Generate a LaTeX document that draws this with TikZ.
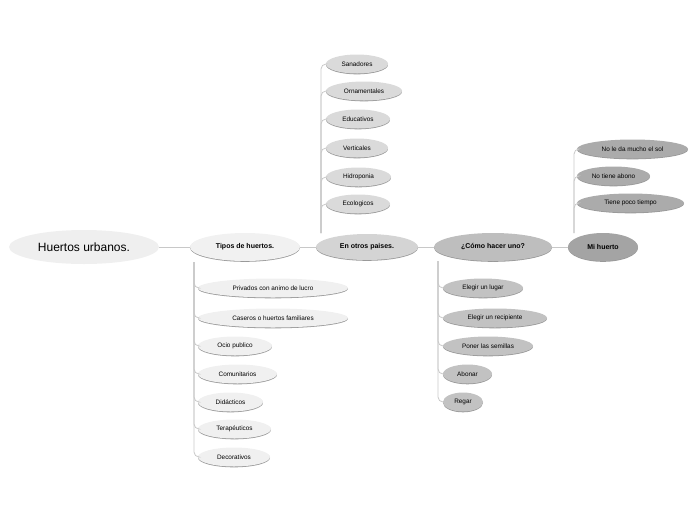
\documentclass[tikz,border=0pt]{standalone}
\usepackage{fontspec}
\setmainfont{Liberation Sans}
\usetikzlibrary{shapes.geometric,shadows}
\definecolor{cA}{HTML}{EFEFEF}
\definecolor{cB}{HTML}{F1F1F1}
\definecolor{cC}{HTML}{D4D4D4}
\definecolor{cD}{HTML}{BEBEBE}
\definecolor{cE}{HTML}{A4A4A4}
\definecolor{kB}{HTML}{F0F0F0}
\definecolor{kC}{HTML}{DADADA}
\definecolor{kD}{HTML}{C2C2C2}
\definecolor{kE}{HTML}{ABABAB}
\definecolor{lin}{HTML}{C8C8C8}
\tikzset{
  bub/.style={ellipse, inner sep=0pt, text=black, general shadow={shadow yshift=-0.8pt, fill=black!40}},
  mainbub/.style={ellipse, inner sep=0pt, fill=cA, minimum width=150pt, minimum height=34pt, font=\fontsize{12}{14}\selectfont},
  lvl/.style={bub, minimum height=28pt, font=\fontsize{7}{9}\selectfont\bfseries},
  kid/.style={bub, minimum height=19pt, font=\fontsize{6.4}{8}\selectfont},
  conn/.style={draw=lin, line width=0.8pt},
  branch/.style={draw=lin, line width=0.8pt, rounded corners=5pt}
}
\begin{document}
\begin{tikzpicture}[x=1pt,y=-1pt]
\useasboundingbox (0,0) rectangle (696,520);
% main chain
\node[mainbub] (main) at (84,247) {Huertos urbanos.};
\node[lvl, fill=cB, minimum width=110pt] (tipos) at (245,247) {Tipos de huertos.};
\node[lvl, fill=cC, minimum width=102pt, minimum height=26pt] (otros) at (367,247) {En otros paises.};
\node[lvl, fill=cD, minimum width=118pt] (como) at (493,247) {¿Cómo hacer uno?};
\node[lvl, fill=cE, minimum width=70pt] (mi) at (603,247) {Mi huerto};
\draw[conn] (main.east) -- (tipos.west);
\draw[conn] (tipos.east) -- (otros.west);
\draw[conn] (otros.east) -- (como.west);
\draw[conn] (como.east) -- (mi.west);
% Tipos children
\node[kid, fill=kB, minimum width=150pt] (t1) at (273,288) {Privados con animo de lucro};
\node[kid, fill=kB, minimum width=150pt] (t2) at (273,318) {Caseros o huertos familiares};
\node[kid, fill=kB, minimum width=74pt] (t3) at (235,346) {Ocio publico};
\node[kid, fill=kB, minimum width=79pt] (t4) at (237.5,374) {Comunitarios};
\node[kid, fill=kB, minimum width=65pt] (t5) at (230.5,402) {Didácticos};
\node[kid, fill=kB, minimum width=73pt] (t6) at (234.5,429) {Terapéuticos};
\node[kid, fill=kB, minimum width=72pt] (t7) at (234,457) {Decorativos};
\coordinate (ct) at (194,262);
\foreach \n in {t1,t2,t3,t4,t5,t6,t7} \draw[branch] (ct) |- (\n.west);
% Otros children
\node[kid, fill=kC, minimum width=62pt] (o1) at (357,64) {Sanadores};
\node[kid, fill=kC, minimum width=76pt] (o2) at (364,91) {Ornamentales};
\node[kid, fill=kC, minimum width=64pt] (o3) at (358,119) {Educativos};
\node[kid, fill=kC, minimum width=62pt] (o4) at (357,148) {Verticales};
\node[kid, fill=kC, minimum width=65pt] (o5) at (358.5,177) {Hidroponia};
\node[kid, fill=kC, minimum width=64pt] (o6) at (358,204) {Ecologicos};
\coordinate (co) at (321,233);
\foreach \n in {o1,o2,o3,o4,o5,o6} \draw[branch] (co) |- (\n.west);
% Como children
\node[kid, fill=kD, minimum width=80pt] (c1) at (483,288) {Elegir un lugar};
\node[kid, fill=kD, minimum width=104pt] (c2) at (495,318) {Elegir un recipiente};
\node[kid, fill=kD, minimum width=90pt] (c3) at (488,346) {Poner las semillas};
\node[kid, fill=kD, minimum width=49pt] (c4) at (467.5,374) {Abonar};
\node[kid, fill=kD, minimum width=40pt] (c5) at (463,402) {Regar};
\coordinate (cc) at (438,261);
\foreach \n in {c1,c2,c3,c4,c5} \draw[branch] (cc) |- (\n.west);
% Mi huerto children
\node[kid, fill=kE, minimum width=111pt] (m1) at (632.5,149) {No le da mucho el sol};
\node[kid, fill=kE, minimum width=73pt] (m2) at (613.5,176) {No tiene abono};
\node[kid, fill=kE, minimum width=107pt] (m3) at (630.5,203) {Tiene poco tiempo};
\coordinate (cm) at (574,233);
\foreach \n in {m1,m2,m3} \draw[branch] (cm) |- (\n.west);
\end{tikzpicture}
\end{document}
